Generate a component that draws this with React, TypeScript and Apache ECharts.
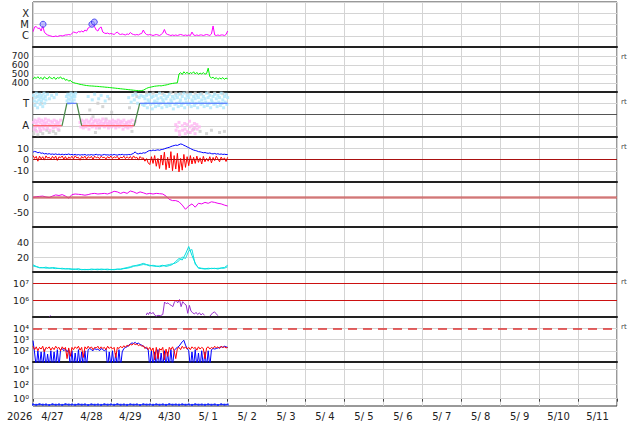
import React, { useEffect, useRef } from 'react';
import * as echarts from 'echarts';

// ---------- data (hours from 2026-04-27 00:00) ----------
const dayLabels = ['4/27', '4/28', '4/29', '4/30', '5/ 1', '5/ 2', '5/ 3', '5/ 4', '5/ 5', '5/ 6', '5/ 7', '5/ 8', '5/ 9', '5/10', '5/11'];

// X-ray flux, log10 W/m2, hourly
const xrayLog10 = [
  -5.64, -5.22, -5.18, -5.36, -5.31, -5.58, -5.13, -5.67, -5.84, -5.93, -5.98, -6.02,
  -6.07, -6.07, -6.02, -6.07, -6.02, -5.98, -6.02, -5.98, -5.93, -5.93, -5.89, -5.93,
  -5.80, -5.67, -5.71, -5.76, -5.62, -5.67, -5.58, -5.67, -5.49, -5.58, -5.31, -5.22,
  -5.09, -5.00, -5.22, -5.49, -5.58, -5.31, -5.22, -5.67, -5.76, -5.80, -5.76, -5.84,
  -5.80, -5.84, -5.89, -5.76, -5.67, -5.84, -5.89, -5.84, -5.89, -5.93, -5.84, -5.89,
  -5.71, -5.84, -5.89, -5.93, -5.89, -5.93, -5.84, -5.80, -5.49, -5.76, -5.89, -5.93,
  -5.89, -5.93, -5.98, -5.93, -5.89, -5.93, -5.98, -5.89, -5.76, -5.44, -5.80, -5.89,
  -5.93, -5.98, -5.93, -5.98, -5.93, -5.98, -5.93, -5.89, -5.93, -5.98, -5.93, -5.98,
  -5.93, -5.98, -5.67, -5.93, -5.98, -5.93, -5.98, -5.93, -5.93, -5.98, -5.93, -5.89,
  -5.93, -5.98, -5.84, -5.13, -5.93, -5.98, -5.93, -5.98, -5.93, -5.93, -5.98, -5.89,
  -5.58,
];
const flareHours = [6.2, 36.3, 37.8];
const flareLog10 = [-4.98, -4.98, -4.78];

// Solar wind speed km/s, hourly
const windSpeed = [
  440, 465, 450, 470, 448, 462, 440, 468, 452, 445, 470, 455,
  448, 465, 440, 460, 452, 468, 445, 455, 430, 440, 420, 430,
  410, 405, 398, 395, 390, 385, 382, 378, 375, 372, 370, 368,
  367, 366, 364, 363, 362, 360, 358, 357, 355, 353, 352, 350,
  348, 346, 344, 342, 340, 338, 336, 334, 332, 330, 328, 326,
  324, 322, 320, 318, 316, 315, 314, 316, 320, 330, 340, 348,
  352, 356, 360, 364, 366, 368, 370, 368, 372, 375, 378, 382,
  388, 392, 395, 398, 400, 402, 500, 515, 495, 525, 505, 520,
  498, 515, 505, 525, 500, 518, 495, 510, 500, 515, 498, 505,
  565, 470, 455, 465, 445, 460, 440, 455, 445, 460, 440, 455,
  445,
];

// IMF sector (A = 1, T = 3) scatter points [hour, level]
const imfTowardPts = [
  [0.3, 3.7], [0.8, 3.2], [1.2, 2.8], [1.6, 3.5], [2.0, 3.9], [2.4, 3.1], [2.8, 2.6], [3.2, 3.6], [3.6, 3.3], [4.0, 3.8],
  [4.4, 2.9], [4.8, 3.5], [5.2, 3.2], [5.6, 3.7], [6.0, 2.7], [6.4, 3.4], [6.8, 3.9], [7.2, 3.0], [7.6, 3.6], [8.0, 3.3],
  [9.0, 3.8], [10.2, 3.4], [11.5, 3.7], [13, 3.5], [14.5, 3.8],
  [20.6, 3.6], [21, 3.2], [21.4, 3.8], [21.8, 3.4], [22.2, 3.0], [22.6, 3.7], [23, 3.3], [23.4, 3.9], [23.8, 3.5], [24.2, 3.1],
  [24.6, 3.6], [25, 3.8], [25.4, 3.3], [25.8, 3.6], [26.3, 3.9],
  [34, 3.6], [36.5, 3.3], [38, 3.8], [40.5, 3.4], [42, 3.7], [44.5, 3.2], [46, 3.6],
  [59, 3.5], [60.5, 3.1], [61.5, 3.7], [62.5, 3.3], [63.5, 3.8], [64.5, 3.0], [65.5, 3.5], [66.5, 3.7], [67.5, 2.9],
  [68, 3.6], [68.5, 2.8], [69, 3.4], [69.5, 3.0], [70, 3.7], [70.5, 2.6], [71, 3.3], [71.5, 3.1], [72, 3.8], [72.5, 2.9],
  [73, 3.5], [73.5, 2.5], [74, 3.6], [74.5, 3.0], [75, 3.2], [75.5, 2.7], [76, 3.7], [76.5, 3.1], [77, 3.4], [77.5, 2.8],
  [78, 3.9], [78.5, 3.0], [79, 3.5], [79.5, 2.6], [80, 3.3], [80.5, 3.1], [81, 3.7], [81.5, 2.9], [82, 3.4], [82.5, 2.7],
  [83, 3.6], [83.5, 3.0], [84, 3.8], [84.5, 2.8], [85, 3.3], [85.5, 3.1], [86, 3.6], [86.5, 2.5], [87, 3.4], [87.5, 2.9],
  [88, 3.7], [88.5, 3.0], [89, 3.5], [89.5, 2.7], [90, 3.8], [90.5, 3.1], [91, 3.3], [91.5, 2.8], [92, 3.6], [92.5, 3.0],
  [93, 3.9], [93.5, 2.6], [94, 3.4], [94.5, 3.1], [95, 3.7], [95.5, 2.9], [96, 3.5], [96.5, 3.0], [97, 3.8], [97.5, 2.7],
  [98, 3.3], [98.5, 3.1], [99, 3.6], [99.5, 2.8], [100, 3.4], [100.5, 3.0], [101, 3.7], [101.5, 2.6], [102, 3.5], [102.5, 3.1],
  [103, 3.8], [103.5, 2.9], [104, 3.3], [104.5, 3.0], [105, 3.6], [105.5, 2.7], [106, 3.4], [106.5, 3.1], [107, 3.9], [107.5, 2.8],
  [108, 3.5], [108.5, 3.0], [109, 3.7], [109.5, 2.6], [110, 3.3], [110.5, 3.1], [111, 3.6], [111.5, 2.9], [112, 3.8], [112.5, 3.0],
  [113, 3.4], [113.5, 2.7], [114, 3.7], [114.5, 3.1], [115, 3.5], [115.5, 2.8], [116, 3.9], [116.5, 3.0], [117, 3.3], [117.5, 2.6],
  [118, 3.6], [118.5, 3.1], [119, 3.8], [119.5, 2.9], [120, 3.5],
];
const imfAwayPts = [
  [0.3, 1.3], [0.8, 0.7], [1.2, 1.5], [1.6, 0.9], [2, 1.2], [2.4, 0.5], [2.8, 1.4], [3.2, 1.0], [3.6, 1.6], [4, 0.8],
  [4.4, 1.3], [4.8, 0.6], [5.2, 1.5], [5.6, 1.1], [6, 0.9], [6.4, 1.4], [6.8, 0.7], [7.2, 1.2], [7.6, 1.6], [8, 1.0],
  [8.5, 1.3], [9, 0.8], [9.5, 1.5], [10, 1.1], [10.5, 0.6], [11, 1.4], [11.5, 1.0], [12, 1.3], [12.5, 0.8], [13, 1.5],
  [13.5, 1.1], [14, 0.9], [14.5, 1.4], [15, 1.2], [15.5, 0.7], [16, 1.3], [16.5, 1.0], [17, 1.5],
  [29, 1.3], [29.5, 0.9], [30, 1.5], [30.5, 1.1], [31, 0.8], [31.5, 1.4], [32, 1.2], [32.5, 0.9], [33, 1.5], [33.5, 1.0],
  [34, 1.3], [34.5, 0.7], [35, 1.4], [35.5, 1.1], [36, 1.6], [36.5, 0.9], [37, 1.2], [37.5, 1.4], [38, 1.0], [38.5, 1.5],
  [39, 0.8], [39.5, 1.3], [40, 1.1], [40.5, 1.5], [41, 0.9], [41.5, 1.2], [42, 1.4], [42.5, 1.0], [43, 1.6], [43.5, 1.2],
  [44, 0.9], [44.5, 1.3], [45, 1.5], [45.5, 1.0], [46, 1.2], [46.5, 0.8], [47, 1.4], [47.5, 1.1], [48, 1.3], [48.5, 0.9],
  [49, 1.5], [49.5, 1.2], [50, 1.0], [50.5, 1.4], [51, 0.8], [51.5, 1.3], [52, 1.1], [52.5, 1.5], [53, 0.9], [53.5, 1.2],
  [54, 1.4], [54.5, 1.0], [55, 1.3], [55.5, 0.7], [56, 1.5], [56.5, 1.1], [57, 0.9], [57.5, 1.3], [58, 1.2], [58.5, 0.8],
  [59, 1.4], [59.5, 1.0], [60, 1.3], [60.5, 0.9], [61, 1.5], [62, 1.1], [63, 1.4],
  [88, 1.1], [88.2, 0.6], [89, 0.9], [90, 1.3], [90.2, 0.5], [90.4, 0.2], [92, 1.0], [92.2, 0.6], [93.5, 1.2], [93.7, 0.7],
  [93.9, 0.3], [95, 1.1], [95.2, 0.5], [96.5, 1.4], [96.7, 0.9], [96.9, 0.4], [98, 1.0], [98.2, 0.6], [99.5, 1.2], [99.7, 0.8],
  [99.9, 0.3], [101, 1.1], [101.2, 0.7], [102.5, 0.9],
];
const imfMixedPts = [
  [0.5, 0.3], [1.5, 0.6], [3, 0.2], [4.5, 0.5], [6, 0.3], [8.5, 0.6], [10, 0.4], [12.5, 0.5], [14, 0.3], [16, 0.6], [2.5, 3.6], [5, 3.0],
  [35, 2.4], [37, 1.8], [38.5, 0.4], [40, 3.0], [41, 0.8], [43, 2.7], [45, 1.6], [47, 3.4], [48.5, 2.2],
  [59.5, 2.6], [61, 0.5], [63, 3.9], [64, 3.6], [70, 3.95], [74, 3.9], [80, 3.85], [85, 3.95], [88, 3.9], [91, 3.85],
  [95, 3.95], [100, 3.9], [104, 3.85], [108, 3.95], [112, 3.9], [117, 3.85],
  [96, 0.4], [99, 0.7], [103, 0.5], [107, 0.3], [110, 0.6], [115, 0.4], [118, 0.5],
];
const sectorHours = [0, 17.9, 20.9, 27, 30, 62.4, 65.8, 120];
const sectorLevels = [1, 1, 3, 3, 1, 1, 3, 3];

// IMF Bt / Bz nT, hourly
const imfBt = [
  6.5, 7.2, 6.8, 6.0, 6.4, 5.5, 5.8, 5.0, 5.3, 4.8, 5.2, 4.6,
  4.9, 4.5, 5.0, 4.4, 4.8, 4.3, 4.7, 4.2, 4.6, 4.4, 4.9, 4.3,
  4.5, 4.1, 4.6, 4.0, 4.4, 3.9, 4.3, 4.1, 4.5, 3.8, 4.2, 4.0,
  4.4, 3.9, 4.2, 4.6, 4.0, 4.3, 3.8, 4.1, 4.5, 4.0, 4.2, 3.9,
  4.3, 4.0, 4.5, 4.1, 3.9, 4.4, 4.2, 4.6, 4.0, 4.3, 4.1, 4.5,
  4.2, 4.8, 5.5, 6.8, 5.2, 5.0, 5.6, 5.3, 6.0, 5.7, 6.5, 7.5,
  8.0, 7.8, 8.4, 8.0, 8.3, 8.6, 8.2, 8.8, 9.0, 9.5, 10.0, 10.5,
  10.8, 11.5, 12.0, 12.4, 12.8, 12.5, 13.2, 13.8, 13.5, 12.6, 12.0, 11.2,
  10.5, 9.8, 9.0, 8.4, 8.0, 7.6, 7.0, 6.8, 6.4, 6.0, 6.2, 5.8,
  5.5, 5.8, 5.2, 5.0, 5.4, 4.8, 5.1, 4.6, 4.9, 4.5, 4.7, 4.4,
  4.5,
];
const imfBz = [
  3.5, 1.0, 2.8, -1.5, 3.0, 0.5, 2.5, -0.5, 3.2, 1.2, 2.0, 0.2,
  2.8, 0.8, 3.0, -0.8, 2.4, 1.5, 3.1, 0.3, 2.6, -0.4, 2.2, 1.0,
  2.9, 0.6, 3.3, 1.4, 2.0, -0.6, 2.7, 1.1, 3.0, 0.4, 2.5, 1.3,
  2.8, 0.2, 3.0, 1.5, 2.3, 0.7, 2.9, 1.6, 2.1, 0.5, 2.6, 1.2,
  3.1, 0.9, 2.4, 1.7, 2.8, 0.3, 2.2, 1.4, 3.0, 0.8, 2.5, 1.0,
  2.7, 0.6, 3.2, 1.3, 2.0, -0.5, 2.6, 1.0, 1.5, -1.5, 0.8, -3.0,
  -4.5, 2.5, -3.5, 3.5, -6.0, 1.0, -8.0, 4.0, -5.0, 6.5, -9.0, 2.0,
  -7.5, 7.0, -10.0, 3.5, -8.5, 5.5, -11.0, 1.0, -9.5, 4.5, -7.0, 2.5,
  -5.5, 3.5, -4.0, 2.0, -3.5, 3.0, -2.5, 1.5, -4.0, 2.8, -2.0, 1.0,
  -1.5, 2.5, -3.0, 1.8, -1.0, 3.0, 0.5, -2.0, 2.2, -0.5, 1.5, -1.8,
  2.0,
];

// Dst nT, every 2 hours
const dstIndex = [
  -1, 1, 2, 3, 0, -2, 3, 7, 5, 8, 3, -4,
  8, 10, 9, 8, 6, 8, 11, 12, 10, 11, 12, 10,
  14, 19, 17, 12, 16, 12, 20, 17, 12, 17, 14, 10,
  12, 10, 12, 11, 10, 3, -8, -12, -12, -16, -27, -41,
  -30, -23, -34, -21, -23, -18, -21, -16, -18, -21, -23, -27,
  -30,
];

// Solar wind density /cc, every 2 hours (two sources)
const densityA = [
  9.5, 7.5, 6, 5.5, 6.5, 5, 6, 5.5, 4.5, 5, 4, 4.5,
  4, 3.5, 4.5, 3, 3.5, 3, 4, 3.5, 3, 4, 3.5, 3,
  3.5, 3, 4, 3.5, 4.5, 5, 6, 7.5, 9, 10, 11.5, 10,
  9, 8, 7.5, 8, 9, 7.5, 8.5, 10, 14, 18, 16, 24,
  34, 22, 12, 5, 4.5, 4, 5, 4.5, 5, 4, 5.5, 6,
  9,
];
const densityB = [
  8, 7, 5.5, 6, 5, 5.5, 5, 4.5, 5, 4, 4.5, 4,
  3.5, 4, 3, 3.5, 3, 3.5, 3, 3.5, 4, 3, 3.5, 4,
  3, 3.5, 3.5, 4, 5, 6, 7, 8.5, 8, 9, 10, 9.5,
  8, 9, 8, 7, 8, 9, 10, 11, 12, 15, 20, 18,
  28, 30, 10, 6, 5, 4.5, 4, 5, 4.5, 5, 5, 5,
  7,
];

// Proton flux log10, [hour, value] (null = gap)
const protonLog10 = [
  [10.2, 5.03], [10.8, 5.1], [11.2, null],
  [69.8, 5.12], [70.5, 5.25], [71.2, 5.15], [72, 5.3], [73, 5.18], [74, 5.28], [75, 5.12], [75.9, 5.05],
  [77, 5.1], [78.5, 5.08], [80, 5.15], [81.1, 5.9], [82.1, 5.8], [83.2, 5.85], [84.2, 5.75], [85.2, 5.7],
  [86.2, 5.62], [87.2, 5.9], [88.2, 6.0], [89.2, 5.85], [90.3, 6.05], [91.3, 5.62], [92.3, 5.92], [93.3, 5.8],
  [94.4, 5.72], [95.4, 5.22], [96.4, 5.7], [97.4, 5.35], [98.5, 5.25], [99.5, 5.18], [100.5, 5.28],
  [101.5, 5.15], [102.6, 5.25], [103.6, 5.12], [104.6, 5.22], [105.7, 5.1], [106.5, null],
  [109, 5.05], [110.8, 5.25], [111.8, 5.3], [112.8, 5.22], [113.9, 5.08],
];

// Electron flux log10, hourly
const electronBlue = [
  2.9, 1.8, 0.5, 2.0, 0.6, 1.9, 0.5, 2.1, 0.5, 1.7, 0.5, 2.0,
  0.5, 1.9, 0.6, 2.1, 0.5, 2.1, 2.2, 2.0, 2.15, 1.9, 2.1, 0.5,
  2.0, 0.5, 1.8, 0.5, 2.1, 0.6, 1.9, 0.5, 2.0, 0.6, 2.1, 2.2,
  2.1, 2.0, 2.2, 2.1, 2.15, 2.0, 2.2, 2.1, 2.0, 2.15, 0.5, 1.9,
  0.6, 2.0, 0.5, 1.8, 0.5, 2.1, 0.6, 1.9, 2.2, 2.3, 2.35, 2.5,
  2.6, 2.7, 2.65, 2.75, 2.6, 2.7, 2.55, 2.5, 2.4, 2.3, 2.2, 2.1,
  0.5, 2.0, 0.5, 1.9, 0.6, 2.1, 0.5, 1.8, 0.5, 2.0, 0.6, 1.9,
  0.5, 2.1, 0.6, 2.0, 2.2, 2.3, 2.4, 2.6, 2.8, 2.93, 2.5, 2.2,
  2.0, 0.5, 1.9, 0.6, 2.1, 0.5, 1.8, 0.5, 2.0, 0.6, 1.9, 0.5,
  2.0, 0.6, 2.1, 2.2, 2.15, 2.2, 2.25, 2.3, 2.35, 2.3, 2.4, 2.35,
  2.3,
];
const electronRed = [
  2.4, 2.1, 2.35, 2.0, 2.3, 2.15, 2.4, 1.9, 2.3, 2.2, 2.35, 2.05,
  2.3, 2.1, 2.4, 2.2, 2.3, 2.0, 2.35, 2.15, 2.3, 1.3, 2.25, 1.5,
  2.3, 2.1, 2.35, 2.2, 2.4, 2.05, 2.3, 1.4, 2.35, 2.15, 2.4, 2.2,
  2.35, 2.1, 2.3, 2.25, 2.4, 2.15, 2.35, 2.2, 2.3, 2.1, 2.4, 2.2,
  2.35, 2.15, 2.3, 1.4, 2.3, 2.2, 2.4, 2.25, 2.45, 2.3, 2.5, 2.4,
  2.6, 2.5, 2.65, 2.55, 2.6, 2.45, 2.55, 2.4, 2.45, 2.2, 2.35, 2.1,
  2.3, 2.0, 2.25, 1.2, 2.3, 1.3, 2.2, 2.05, 2.3, 1.2, 2.15, 1.5,
  2.3, 2.1, 2.35, 2.0, 1.3, 2.2, 2.3, 2.1, 2.4, 2.2, 2.35, 2.15,
  2.3, 2.1, 2.35, 2.2, 2.3, 2.05, 2.35, 2.15, 2.3, 2.2, 1.3, 2.25,
  2.35, 2.15, 2.3, 2.2, 2.4, 2.25, 2.35, 2.2, 2.4, 2.3, 2.35, 2.25,
  2.3,
];

// Bottom panel log10, every 2 hours
const bottomLog10 = [
  -0.78, -0.84, -0.76, -0.82, -0.80, -0.86, -0.77, -0.83, -0.79, -0.85, -0.76, -0.81,
  -0.80, -0.84, -0.77, -0.82, -0.79, -0.86, -0.78, -0.83, -0.80, -0.85, -0.77, -0.82,
  -0.79, -0.84, -0.76, -0.83, -0.80, -0.85, -0.78, -0.82, -0.79, -0.86, -0.77, -0.81,
  -0.80, -0.84, -0.78, -0.83, -0.79, -0.85, -0.76, -0.82, -0.80, -0.84, -0.78, -0.83,
  -0.79, -0.85, -0.77, -0.82, -0.80, -0.84, -0.78, -0.83, -0.79, -0.86, -0.77, -0.82,
  -0.80,
];

// ---------- chart ----------
const FONT = 'DejaVu Sans';
const TOPS = [2, 47, 92, 137, 182, 227, 272, 317, 362];
const HEIGHTS = [45, 45, 45, 45, 45, 45, 45, 45, 44];
const SUPS: Record<string, string> = { '0': '⁰', '1': '¹', '2': '²', '3': '³', '4': '⁴', '5': '⁵', '6': '⁶', '7': '⁷', '8': '⁸', '9': '⁹' };

const hourly = (a: number[]) => a.map((v, i) => [i, v]);
const twoHourly = (a: number[]) => a.map((v, i) => [i * 2, v]);

const mark = (vals: number[], color: string, width = 1, type: any = 'solid') => ({
  silent: true,
  symbol: ['none', 'none'],
  label: { show: false },
  animation: false,
  lineStyle: { color, width, type },
  emphasis: { disabled: true },
  data: vals.map((v) => ({ yAxis: v })),
});

const pick = (map: Record<string, string>) => (v: number) => map[String(v)] ?? '';
const sup = (allowed: number[]) => (v: number) => (allowed.includes(v) ? `10${SUPS[String(v)]}` : '');

function buildOption() {
  const grid = TOPS.map((t, i) => ({
    left: 33, top: t, width: 584, height: HEIGHTS[i],
    show: true, borderColor: '#333', borderWidth: 1, backgroundColor: 'transparent',
  }));

  const xAxis: any[] = TOPS.map((_, i) => ({
    type: 'value', gridIndex: i, min: 0, max: 360, interval: 24,
    position: i === 8 ? 'top' : 'bottom',
    axisLine: { show: i < 8, onZero: false, lineStyle: { color: '#222', width: 2 } },
    axisTick: { show: false },
    axisLabel: { show: false },
    splitLine: { show: true, lineStyle: { color: '#d4d4d4', width: 1 } },
  }));
  xAxis.push({
    type: 'category', gridIndex: 8, data: dayLabels, boundaryGap: true, position: 'bottom',
    axisLine: { show: false },
    axisTick: { show: true, length: 3, lineStyle: { color: '#444' } },
    splitLine: { show: false },
    axisLabel: { interval: 0, fontSize: 10, color: '#222', fontFamily: FONT, margin: 5 },
  });

  const yA = (i: number, min: number, max: number, interval: number, formatter: any, split = true, fs = 9.5) => ({
    type: 'value', gridIndex: i, min, max, interval,
    axisLine: { show: false }, axisTick: { show: false },
    splitLine: { show: split, lineStyle: { color: '#d4d4d4', width: 1 } },
    axisLabel: { formatter, fontSize: fs, lineHeight: Math.min(fs, 9), color: '#222', fontFamily: FONT, margin: 4 },
  });

  const yAxis = [
    yA(0, -7, -3, 1, pick({ '-6': 'C', '-5': 'M', '-4': 'X' }), true, 10),
    yA(1, 300, 800, 100, (v: number) => (v >= 400 && v <= 700 ? String(v) : ''), true, 9),
    yA(2, 0, 4, 1, pick({ '3': 'T', '1': 'A' }), true, 10),
    yA(3, -20, 20, 10, pick({ '10': '10', '0': '0', '-10': '-10' })),
    yA(4, -100, 50, 50, pick({ '0': '0', '-50': '-50' })),
    yA(5, 0, 60, 20, pick({ '20': '20', '40': '40' })),
    yA(6, 5, 7.7, 1, sup([6, 7])),
    yA(7, 1, 5, 1, sup([2, 3, 4])),
    yA(8, -1, 5, 1, sup([0, 2, 4]), false),
  ];

  const line = (xi: number, data: any[], color: string, width = 1, extra: any = {}) => ({
    type: 'line', xAxisIndex: xi, yAxisIndex: xi, data, showSymbol: false,
    lineStyle: { color, width }, itemStyle: { color }, clip: true, z: 3, ...extra,
  });
  const scatter = (xi: number, data: any[], color: string, size = 3, extra: any = {}) => ({
    type: 'scatter', xAxisIndex: xi, yAxisIndex: xi, data, symbol: 'rect', symbolSize: size,
    itemStyle: { color }, clip: true, z: 2, ...extra,
  });

  const series: any[] = [];
  // 1 X-ray
  series.push(line(0, hourly(xrayLog10), '#ff00ff'));
  series.push({
    type: 'scatter', xAxisIndex: 0, yAxisIndex: 0, z: 4,
    data: flareHours.map((h, i) => [h, flareLog10[i]]), symbol: 'circle', symbolSize: 6,
    itemStyle: { color: 'rgba(150,150,255,0.75)', borderColor: '#2a2aee', borderWidth: 1 },
  });
  // 2 speed
  series.push(line(1, hourly(windSpeed), '#00ee00'));
  // 3 IMF sector
  series.push(scatter(2, imfMixedPts, '#cccccc', 3));
  series.push(scatter(2, imfAwayPts, '#ffb6f2', 3));
  series.push(scatter(2, imfTowardPts, '#aee6fb', 3, {
    markLine: mark([2], '#555555', 1),
  }));
  for (let i = 0; i < sectorHours.length - 1; i++) {
    const a = sectorLevels[i], b = sectorLevels[i + 1];
    const c = a !== b ? '#4a8a4a' : a === 3 ? '#4466ff' : '#ff4444';
    series.push(line(2, [[sectorHours[i], a], [sectorHours[i + 1], b]], c, 1.2, { z: 5 }));
  }
  // 4 IMF
  series.push(line(3, hourly(imfBz), '#ff0000', 1, { markLine: mark([0], '#aa1111', 1) }));
  series.push(line(3, hourly(imfBt), '#0000ff', 1, { z: 4 }));
  // 5 Dst
  series.push(line(4, twoHourly(dstIndex), '#ee00ee', 1, { z: 4, markLine: mark([0], 'rgba(205,90,90,0.75)', 2.5) }));
  // 6 density
  series.push(line(5, twoHourly(densityB), '#22e0e0'));
  series.push(line(5, twoHourly(densityA), '#00dede'));
  // 7 protons
  series.push(line(6, protonLog10, '#9933cc', 1, { markLine: mark([6, 7], '#cc1111', 1) }));
  // 8 electrons
  series.push(line(7, hourly(electronBlue), '#0000ff'));
  series.push(line(7, hourly(electronRed), '#ff0000', 1, { z: 4, markLine: mark([4], '#dd3333', 1.5, [9, 6]) }));
  // 9 bottom
  series.push(line(8, twoHourly(bottomLog10), '#1a2cff', 1, {
    showSymbol: true, symbol: 'rect', symbolSize: 2, markLine: mark([0, 2, 4], '#d4d4d4', 1),
  }));

  const rt = [1, 2, 3, 6, 7].map((i) => ({
    type: 'text', x: 621, y: TOPS[i] + 9.7,
    style: { text: 'rt', fontSize: 7, fontFamily: FONT, fill: '#444', verticalAlign: 'middle' },
  }));

  return {
    animation: false,
    backgroundColor: '#ffffff',
    textStyle: { fontFamily: FONT },
    grid, xAxis, yAxis, series,
    graphic: [
      { type: 'text', x: 7, y: 416, style: { text: '2026', fontSize: 10, fontFamily: FONT, fill: '#222', verticalAlign: 'middle' } },
      ...rt,
    ],
  };
}

export default function App() {
  const ref = useRef<HTMLDivElement>(null);
  useEffect(() => {
    if (!ref.current) return;
    const chart = echarts.init(ref.current, undefined, { renderer: 'svg' });
    chart.setOption(buildOption() as any);
    return () => chart.dispose();
  }, []);
  return <div ref={ref} style={{ position: 'fixed', left: 0, top: 0, width: 634, height: 424 }} />;
}
